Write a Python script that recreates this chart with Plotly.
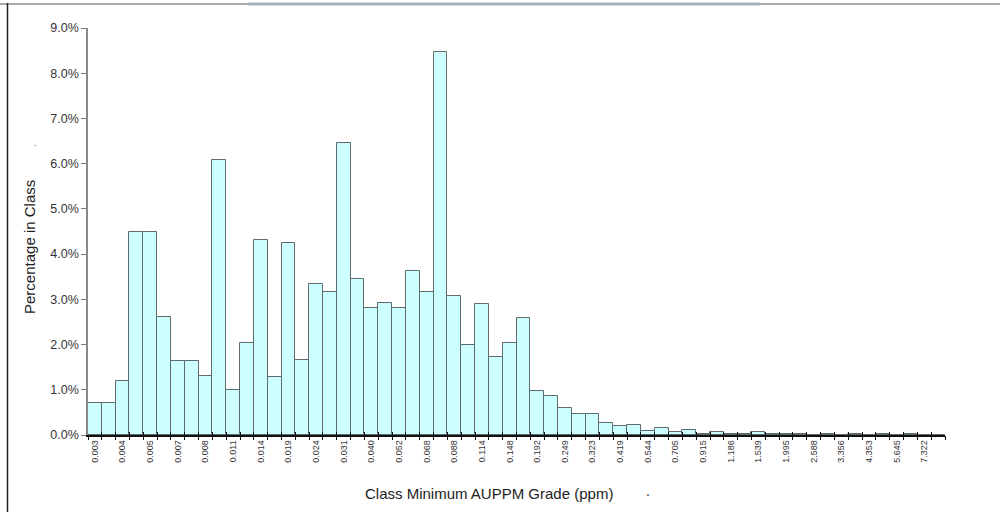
import plotly.graph_objects as go

# Tick labels (class minimum grade, labelled every second class)
tick_labels = ["0.003", "0.004", "0.005", "0.007", "0.008", "0.011", "0.014", "0.019",
               "0.024", "0.031", "0.040", "0.052", "0.068", "0.088", "0.114", "0.148",
               "0.192", "0.249", "0.323", "0.419", "0.544", "0.705", "0.915", "1.186",
               "1.539", "1.995", "2.588", "3.356", "4.353", "5.645", "7.322"]

# Percentage in class for each of the 62 classes
pct_in_class = [0.70, 0.70, 1.20, 4.49, 4.49, 2.62, 1.63, 1.63, 1.30, 6.09,
                1.00, 2.04, 4.32, 1.28, 4.24, 1.65, 3.33, 3.17, 6.46, 3.45,
                2.80, 2.93, 2.80, 3.63, 3.17, 8.48, 3.08, 1.98, 2.89, 1.73,
                2.04, 2.58, 0.97, 0.87, 0.60, 0.46, 0.46, 0.26, 0.20, 0.23,
                0.09, 0.15, 0.07, 0.10, 0.03, 0.07, 0.02, 0.03, 0.07, 0.03,
                0.02, 0.02, 0.01, 0.02, 0.01, 0.02, 0.01, 0.02, 0.01, 0.02,
                0.01, 0.00]

x_title = "Class Minimum AUPPM Grade (ppm)"
y_title = "Percentage in Class"

n = len(pct_in_class)
idx = list(range(n))
label_pos = idx[::2][:len(tick_labels)]
bounds = [i - 0.5 for i in range(n + 1)]

W, H = 1000, 514
L, R, T, B = 88, 55, 28, 79
pw, ph = W - L - R, H - T - B


def px_x(px):
    return (px - L) / pw


def px_y(py):
    return (H - B - py) / ph


FONT = "Arial, Liberation Sans, sans-serif"

fig = go.Figure()
fig.add_trace(go.Bar(
    x=idx, y=pct_in_class, width=1.0,
    marker=dict(color="#ccffff", line=dict(color="#5f6b6b", width=1)),
    hoverinfo="skip", showlegend=False))
fig.add_trace(go.Scatter(x=[], y=[], xaxis="x2", yaxis="y", showlegend=False, hoverinfo="skip"))
fig.add_trace(go.Scatter(x=[], y=[], xaxis="x3", yaxis="y", showlegend=False, hoverinfo="skip"))

xr = [-0.5, n - 0.5]
fig.update_layout(
    width=W, height=H,
    margin=dict(l=L, r=R, t=T, b=B),
    paper_bgcolor="white", plot_bgcolor="white",
    font=dict(family=FONT, color="#333333"),
    bargap=0,
    xaxis=dict(range=xr, tickmode="array", tickvals=label_pos, ticktext=tick_labels,
               tickangle=-90, ticks="", tickfont=dict(size=9, color="#333333"),
               showline=True, linecolor="#111111", linewidth=1.5,
               showgrid=False, zeroline=False, fixedrange=True),
    xaxis2=dict(range=xr, overlaying="x", anchor="y", side="bottom",
                tickmode="array", tickvals=bounds, ticks="outside", ticklen=4,
                tickcolor="#111111", tickwidth=1, showticklabels=False,
                showline=False, showgrid=False, zeroline=False),
    xaxis3=dict(range=xr, overlaying="x", anchor="y", side="bottom",
                tickmode="array", tickvals=bounds, ticks="inside", ticklen=3,
                tickcolor="#111111", tickwidth=1, showticklabels=False,
                showline=False, showgrid=False, zeroline=False),
    yaxis=dict(range=[0, 9], dtick=1, tick0=0, tickformat=".1f", ticksuffix="%",
               ticks="outside", ticklen=5, tickcolor="#777777",
               tickfont=dict(size=12.5, color="#333333"),
               showline=True, linecolor="#888888", linewidth=1.5,
               showgrid=False, zeroline=False, fixedrange=True),
    annotations=[
        dict(text=x_title, xref="paper", yref="paper", x=px_x(489), y=px_y(493),
             showarrow=False, font=dict(size=15, color="#222222"),
             xanchor="center", yanchor="middle"),
        dict(text=".", xref="paper", yref="paper", x=px_x(648), y=px_y(491),
             showarrow=False, font=dict(size=14, color="#222222"),
             xanchor="center", yanchor="middle"),
        dict(text=y_title, xref="paper", yref="paper", x=px_x(30), y=px_y(247),
             showarrow=False, textangle=-90, font=dict(size=15, color="#222222"),
             xanchor="center", yanchor="middle"),
        dict(text=".", xref="paper", yref="paper", x=px_x(35), y=px_y(143),
             showarrow=False, font=dict(size=9, color="#555555"),
             xanchor="center", yanchor="middle"),
    ],
    shapes=[
        dict(type="line", xref="paper", yref="paper", x0=px_x(0), x1=px_x(1000),
             y0=px_y(4), y1=px_y(4), line=dict(color="#aaaaaa", width=2)),
        dict(type="line", xref="paper", yref="paper", x0=px_x(248), x1=px_x(760),
             y0=px_y(4), y1=px_y(4), line=dict(color="#a4b4bc", width=3)),
        dict(type="line", xref="paper", yref="paper", x0=px_x(7.5), x1=px_x(7.5),
             y0=px_y(3), y1=px_y(512), line=dict(color="#222222", width=1.5)),
    ],
)

fig.write_html("out.html", config={"displayModeBar": False},
               post_script="document.body.style.margin='0';document.body.style.overflow='hidden';")
